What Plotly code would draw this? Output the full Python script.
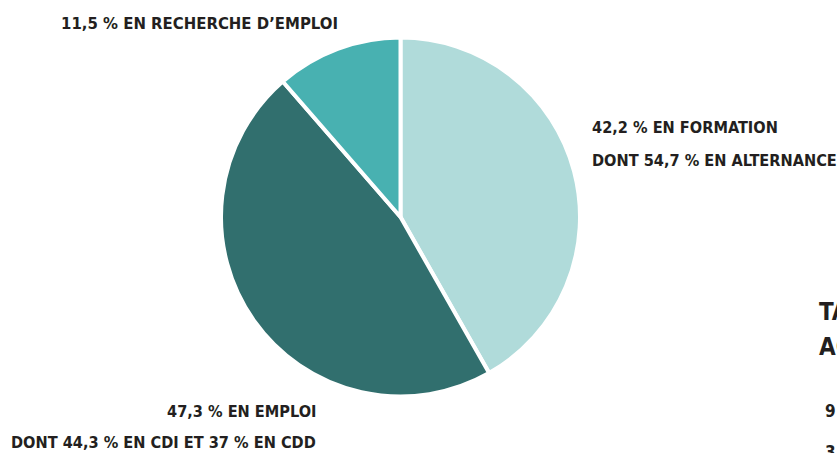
import plotly.graph_objects as go

W, H = 837, 453

categories = ["EN FORMATION", "EN EMPLOI", "EN RECHERCHE D'EMPLOI"]
values = [42.2, 47.3, 11.5]
colors = ["#b0dbda", "#316f6e", "#48b1b1"]

label_lines = [
    ("11,5 % EN RECHERCHE D’EMPLOI", 340, 23, "right", 16.6),
    ("42,2 % EN FORMATION", 590, 127, "left", 16.2),
    ("DONT 54,7 % EN ALTERNANCE", 590, 160, "left", 16.2),
    ("47,3 % EN EMPLOI", 318, 411, "right", 16.2),
    ("DONT 44,3 % EN CDI ET 37 % EN CDD", 318, 442, "right", 16.2),
    ("TA", 817, 312, "left", 24),
    ("AC", 817, 347, "left", 24),
    ("9", 823, 411, "left", 17),
    ("3", 823, 452, "left", 17),
]

FONT = "DejaVu Sans Condensed, Liberation Sans Narrow, Arial Narrow, sans-serif"

fig = go.Figure(go.Pie(
    labels=categories,
    values=values,
    sort=False,
    direction="clockwise",
    rotation=0,
    marker=dict(colors=colors, line=dict(color="white", width=4)),
    textinfo="none",
    hoverinfo="label+percent",
    domain=dict(x=[221 / W, 580 / W], y=[1 - 397 / H, 1 - 37 / H]),
    showlegend=False,
))

for text, x, y, anchor, size in label_lines:
    fig.add_annotation(
        text="<b>" + text + "</b>",
        x=x / W, y=1 - y / H, xref="paper", yref="paper",
        xanchor=anchor, yanchor="middle", showarrow=False,
        font=dict(family=FONT, size=size, color="#231f20"),
    )

fig.update_layout(
    width=W, height=H,
    margin=dict(l=0, r=0, t=0, b=0),
    paper_bgcolor="white", plot_bgcolor="white",
)

fig.write_html(
    "out.html",
    config={"displayModeBar": False},
    post_script="document.body.style.margin='0';document.body.style.overflow='hidden';",
)
